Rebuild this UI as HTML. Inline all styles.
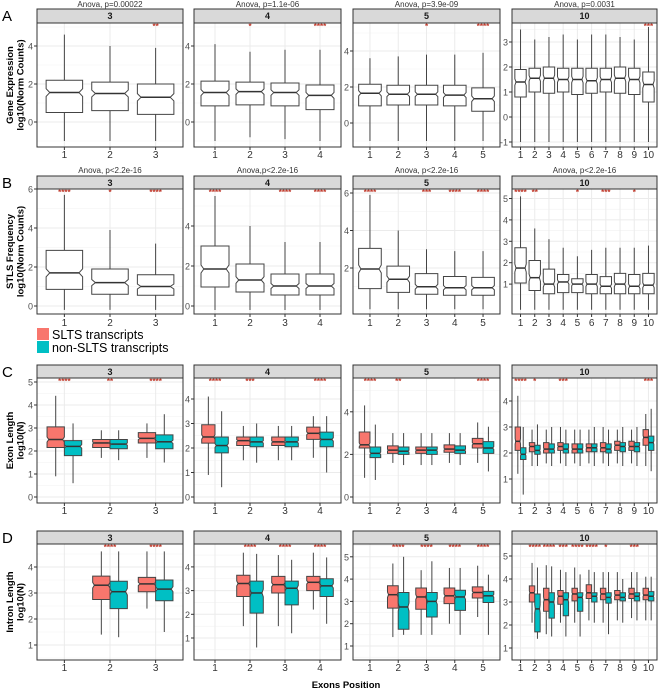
<!DOCTYPE html>
<html><head><meta charset="utf-8">
<style>
html,body{margin:0;padding:0;background:#fff;}
svg{display:block;font-family:"Liberation Sans",Arial,sans-serif;}
</style></head>
<body>
<svg id="fig" width="660" height="690" viewBox="0 0 660 690"></svg>
<script>
// ---------- data ----------
const rowNames = ["A","B","C","D"];
const facetLabels = ["3","4","5","10"];
const anovaA = ["Anova, p=0.00022","Anova, p=1.1e-06","Anova, p=3.9e-09","Anova, p=0.0031"];
const anovaB = ["Anova, p<2.2e-16","Anova,p<2.2e-16","Anova, p<2.2e-16","Anova, p<2.2e-16"];
const yTitles = [["Gene Expression","log10(Norm Counts)"],["STLS Frequency","log10(Norm Counts)"],["Exon Length","log10(N)"],["Intron Length","log10(N)"]];
// boxes: [lo, q1, median, q3, hi]
const boxA1 = [[-1.0,0.5,1.55,2.2,4.6],[-1.0,0.6,1.5,2.1,4.0],[-1.0,0.4,1.3,2.0,3.9]];
const boxA2 = [[-1.0,0.85,1.55,2.15,4.1],[-0.8,0.9,1.6,2.1,3.7],[-0.9,0.85,1.55,2.05,3.8],[-1.0,0.65,1.4,1.95,3.8]];
const boxA3 = [[-1.0,0.95,1.65,2.15,3.6],[-1.0,1.0,1.6,2.1,3.7],[-1.0,1.0,1.6,2.1,3.8],[-1.0,0.95,1.55,2.1,3.8],[-1.0,0.65,1.35,1.95,3.9]];
const boxA4 = [[-1,0.8,1.4,1.9,3.5],[-1,1.0,1.55,1.95,3.1],[-1,0.95,1.55,2.0,3.2],[-1,1.0,1.5,1.95,3.3],[-1,0.9,1.5,1.95,3.1],[-1,0.95,1.45,1.95,3.3],[-1,1.0,1.5,1.95,3.3],[-1,0.95,1.55,2.0,3.2],[-1,0.9,1.5,1.95,3.1],[-1,0.6,1.3,1.8,3.6]];
const boxB1 = [[-0.2,0.85,1.7,2.85,5.7],[-0.2,0.6,1.2,1.9,3.9],[-0.2,0.55,1.0,1.6,3.2]];
const boxB2 = [[-0.2,0.95,1.85,3.0,5.5],[-0.2,0.7,1.3,2.1,4.0],[-0.2,0.55,1.0,1.6,3.2],[-0.2,0.55,1.0,1.6,3.2]];
const boxB3 = [[-0.2,0.9,1.95,3.05,5.9],[-0.2,0.7,1.4,2.1,4.0],[-0.2,0.6,1.0,1.7,3.0],[-0.2,0.55,0.95,1.55,2.9],[-0.2,0.55,0.95,1.5,2.9]];
const boxB4 = [[-0.2,1.05,1.75,2.7,5.1],[-0.2,0.7,1.3,2.1,3.6],[-0.2,0.55,1.0,1.7,3.1],[-0.2,0.6,1.1,1.45,2.7],[-0.2,0.6,1.0,1.25,2.3],[-0.2,0.55,1.0,1.45,2.6],[-0.2,0.55,0.9,1.35,2.7],[-0.2,0.55,1.0,1.5,2.7],[-0.2,0.55,0.9,1.45,2.7],[-0.2,0.55,0.95,1.5,2.8]];
// paired: [SLTS, nonSLTS]
const boxC1 = [[[0.9,2.15,2.5,3.05,4.4],[0.6,1.8,2.2,2.45,3.2]],[[1.7,2.15,2.35,2.5,2.9],[1.6,2.1,2.3,2.5,2.9]],[[1.7,2.35,2.55,2.8,3.2],[1.5,2.1,2.4,2.7,3.6]]];
const boxC2 = [[[0.9,2.2,2.45,2.95,4.1],[0.4,1.8,2.1,2.45,3.5]],[[1.5,2.1,2.3,2.45,2.9],[1.4,2.05,2.25,2.45,3.0]],[[1.5,2.1,2.25,2.45,2.9],[1.5,2.05,2.25,2.45,2.9]],[[1.6,2.35,2.6,2.85,3.3],[1.0,2.05,2.35,2.65,3.3]]];
const boxC3 = [[[0.9,2.3,2.45,3.05,4.3],[0.8,1.85,2.05,2.35,3.4]],[[1.6,2.05,2.2,2.4,3.0],[1.5,2.0,2.15,2.35,3.0]],[[1.5,2.05,2.2,2.35,3.0],[1.5,2.0,2.2,2.35,3.0]],[[1.6,2.1,2.25,2.45,3.0],[1.5,2.05,2.2,2.4,3.0]],[[1.6,2.3,2.5,2.75,3.5],[1.2,2.05,2.3,2.6,3.3]]];
const boxC4 = [[[1.2,2.1,2.45,3.0,4.2],[0.4,1.75,1.95,2.2,3.0]],[[1.5,2.05,2.25,2.4,2.9],[1.5,1.95,2.1,2.3,3.1]],[[1.6,2.0,2.15,2.4,2.9],[1.5,2.0,2.15,2.35,3.0]],[[1.6,2.1,2.25,2.4,3.0],[1.5,2.0,2.15,2.35,2.9]],[[1.6,2.0,2.15,2.35,2.9],[1.5,2.0,2.15,2.35,2.9]],[[1.6,2.05,2.2,2.35,2.9],[1.5,2.05,2.2,2.35,3.0]],[[1.6,2.05,2.2,2.4,3.0],[1.5,2.0,2.15,2.35,2.9]],[[1.6,2.1,2.3,2.45,2.9],[1.5,2.05,2.25,2.4,3.0]],[[1.6,2.1,2.25,2.45,2.9],[1.5,2.05,2.25,2.4,3.0]],[[1.5,2.3,2.6,2.9,3.5],[1.3,2.1,2.4,2.65,3.7]]];
const boxD1 = [null,[[1.4,2.75,3.3,3.65,4.6],[1.3,2.4,3.05,3.45,4.6]],[[2.4,3.05,3.35,3.6,4.6],[1.5,2.7,3.15,3.5,4.6]]];
const boxD2 = [null,[[1.5,2.75,3.3,3.65,4.6],[0.6,2.05,2.9,3.4,4.55]],[[1.5,2.9,3.25,3.6,4.5],[1.2,2.4,3.1,3.4,4.3]],[[2.2,3.0,3.35,3.6,4.6],[1.6,2.75,3.2,3.5,4.4]]];
const boxD3 = [null,[[1.4,2.7,3.3,3.7,4.7],[1.5,1.75,2.75,3.4,5.0]],[[1.5,2.65,3.2,3.6,4.4],[1.5,2.3,3.0,3.4,4.8]],[[2.0,2.9,3.25,3.6,4.5],[1.5,2.6,3.2,3.5,4.5]],[[2.3,3.15,3.4,3.65,4.6],[1.5,2.95,3.25,3.45,4.2]]];
const boxD4 = [null,[[2.1,3.0,3.4,3.7,4.7],[1.4,1.7,2.7,3.35,4.5]],[[1.6,2.6,3.1,3.6,4.6],[1.5,2.3,3.0,3.4,4.55]],[[2.1,2.9,3.25,3.5,4.4],[1.5,2.4,3.1,3.4,4.3]],[[2.1,3.05,3.35,3.6,4.5],[1.5,2.6,3.2,3.4,4.2]],[[2.2,3.15,3.4,3.75,4.4],[2.1,3.0,3.25,3.4,4.3]],[[2.1,3.1,3.35,3.6,4.3],[1.6,2.95,3.2,3.4,4.3]],[[2.2,3.1,3.3,3.5,4.3],[2.1,3.05,3.2,3.4,4.0]],[[2.3,3.15,3.35,3.6,4.3],[2.2,3.05,3.25,3.4,4.3]],[[2.2,3.1,3.3,3.6,4.1],[2.2,3.05,3.25,3.45,4.1]]];
// significance labels
const sigA = [["","","**"],["","*","","****"],["","","*","","****"],["","","","","","","","","","***"]];
const sigB = [["****","*","****"],["****","","****","****"],["****","","***","****","****"],["****","**","","","*","","***","","*",""]];
const sigC = [["****","**","****"],["****","***","","****"],["****","**","","","****"],["****","*","","***","","","","","","***"]];
const sigD = [["","****","****"],["","****","****","****"],["","****","****","****","****"],["","****","****","***","****","****","*","","***",""]];
// y ticks
const ticksA = [[0,2,4],[0,2,4],[0,2,4],[-1,0,1,2,3]];
const ticksB = [[0,2,4,6],[0,2,4],[2,4,6],[1,2,3,4,5]];
const ticksC = [[0,1,2,3,4,5],[0,1,2,3,4],[0,2,4],[1,2,3,4]];
const ticksD = [[1,2,3,4],[1,2,3,4],[1,2,3,4,5],[1,2,3,4,5]];

// ---------- layout (pixels) ----------
const cols = [[37,183],[194,341],[353,500],[512,657]];
const rows = [
 {title:4, st:9, top:23, bot:147, lab:155},
 {title:170, st:176, top:189, bot:314, lab:323},
 {title:null, st:365, top:378, bot:503, lab:511},
 {title:null, st:531, top:544, bot:660, lab:668}];
const scales = [
 [[0,122,19],[0,122,19],[0,123,18],[0,117,25]],
 [[0,306,19.5],[0,306,20],[0,305.5,18.75],[0,305.5,21.4]],
 [[0,497,23],[0,497,24.5],[0,497,21.3],[0,505,26]],
 [[0,671,26],[0,661.7,23.7],[0,668.3,22.3],[0,671,23]]];

const boxes = [[boxA1,boxA2,boxA3,boxA4],[boxB1,boxB2,boxB3,boxB4],[boxC1,boxC2,boxC3,boxC4],[boxD1,boxD2,boxD3,boxD4]];
const sigs = [sigA,sigB,sigC,sigD];
const ticks = [ticksA,ticksB,ticksC,ticksD];

const NS="http://www.w3.org/2000/svg";
const svg=document.getElementById('fig');
function el(tag,attrs,parent){const e=document.createElementNS(NS,tag);for(const k in attrs)e.setAttribute(k,attrs[k]);(parent||svg).appendChild(e);return e;}
function txt(s,attrs,parent){const t=el('text',attrs,parent);t.textContent=s;return t;}

function notchDims(hw,Y1,Y3){const n=Math.min(4,(Y1-Y3)*0.12);return [n,hw*0.8];}
function boxPath(xc,hw,b,y){
  const [lo,q1,md,q3,hi]=b;const Y1=y(q1),Y3=y(q3),M=y(md);
  const [n,iw]=notchDims(hw,Y1,Y3);
  return `M${xc-hw},${Y3}H${xc+hw}V${M-n}L${xc+iw},${M}L${xc+hw},${M+n}V${Y1}H${xc-hw}V${M+n}L${xc-iw},${M}L${xc-hw},${M-n}Z`;
}
function drawBox(g,xc,hw,b,y,fill){
  const [lo,q1,md,q3,hi]=b;
  const w1=el('line',{x1:xc,x2:xc,y1:y(hi),y2:y(q3),stroke:'#444','stroke-width':1},g);
  
  
  const w2=el('line',{x1:xc,x2:xc,y1:y(q1),y2:y(lo),stroke:'#444','stroke-width':1},g);
  
  
  const p=el('path',{d:boxPath(xc,hw,b,y),fill:fill,stroke:'#444','stroke-width':1},g);
  
  
  const [n,iw]=notchDims(hw,y(q1),y(q3));
  const m=el('line',{x1:xc-iw,x2:xc+iw,y1:y(md),y2:y(md),stroke:'#333','stroke-width':1.5},g);
  
  
}

for(let r=0;r<4;r++){
  const R=rows[r];
  const lt=txt(rowNames[r],{x:2,y:R.st+12,'font-size':15,fill:'#000'});
  
  
  const ym=(R.top+R.bot)/2;
  const yt=txt('',{transform:`translate(13,${ym}) rotate(-90)`,'font-size':9.5,'font-weight':'bold','text-anchor':'middle',fill:'#000'});
  
  
  yTitles[r].forEach((s,i)=>{const ts=el('tspan',{x:0,dy:i?10.5:0},yt);ts.textContent=s;});
  for(let c=0;c<4;c++){
    const [L,Rr]=cols[c];const W=Rr-L;
    const g=el('g',{});
    
    
    const [v0,p0,ppu]=scales[r][c];
    const y=v=>p0-(v-v0)*ppu;
    const data=boxes[r][c];const n=data.length;
    const x=i=>L+(i+1-0.4)/(n+0.2)*W;
    const unit=W/(n+0.2);
    el('rect',{x:L,y:R.top,width:W,height:R.bot-R.top,fill:'#fff'},g);
    const tk=ticks[r][c];
    const step=tk.length>1?tk[1]-tk[0]:1;
    for(let k=-1;k<tk.length;k++){
      const v=(k<0?tk[0]:tk[k])+(k<0?-step/2:step/2);
      const yy=y(v);if(yy>R.top&&yy<R.bot)el('line',{x1:L,x2:Rr,y1:yy,y2:yy,stroke:'#f2f2f2','stroke-width':0.6},g);
    }
    tk.forEach(v=>{const yy=y(v);if(yy>=R.top-1&&yy<=R.bot+1){
      el('line',{x1:L,x2:Rr,y1:yy,y2:yy,stroke:'#ebebeb','stroke-width':1},g);
      el('line',{x1:L-3,x2:L,y1:yy,y2:yy,stroke:'#333','stroke-width':1},g);
      const t=txt(String(v),{x:L-4,y:yy+3.5,'font-size':9,'text-anchor':'end',fill:'#4d4d4d'},g);
      
      
    }});
    for(let i=0;i<n;i++)el('line',{x1:x(i),x2:x(i),y1:R.top,y2:R.bot,stroke:'#ebebeb','stroke-width':1},g);
    for(let i=0;i<n;i++){
      const d=data[i];if(!d)continue;
      if(r<2){drawBox(g,x(i),unit*0.4,d,y,'#fff');}
      else{
        const hw=unit*0.19;
        drawBox(g,x(i)-unit*0.19,hw,d[0],y,'#F8766D');
        drawBox(g,x(i)+unit*0.19,hw,d[1],y,'#00BFC4');
      }
      const s=sigs[r][c][i];
      if(s){const st=txt(s,{x:x(i),y:R.top+6,'font-size':8,'text-anchor':'middle',fill:'#c0392b','font-weight':'bold'},g);
        
        }
    }
    for(let i=0;i<n;i++){
      el('line',{x1:x(i),x2:x(i),y1:R.bot,y2:R.bot+3,stroke:'#333'},g);
      const t=txt(String(i+1),{x:x(i),y:R.lab+3,'font-size':10,'text-anchor':'middle',fill:'#333'},g);
      
      
    }
    el('rect',{x:L,y:R.top,width:W,height:R.bot-R.top,fill:'none',stroke:'#333','stroke-width':1},g);
    const sr=el('rect',{x:L,y:R.st,width:W,height:R.top-R.st,fill:'#d9d9d9',stroke:'#333','stroke-width':1},g);
    
    
    const sl=txt(facetLabels[c],{x:L+W/2,y:R.st+10,'font-size':9,'font-weight':'bold','text-anchor':'middle',fill:'#1a1a1a'},g);
    
    
    if(R.title!==null){
      const s=(r===0?anovaA:anovaB)[c];
      const at=txt(s,{x:L+W/2,y:R.title+3,'font-size':8,'text-anchor':'middle',fill:'#333'},g);
      
      
    }
  }
}
const lg=el('g',{});


el('rect',{x:37,y:328,width:12,height:12,fill:'#F8766D'},lg);
el('rect',{x:37,y:341,width:12,height:12,fill:'#00BFC4'},lg);
const l1=txt('SLTS transcripts',{x:52,y:339,'font-size':12.5,fill:'#000'},lg);


const l2=txt('non-SLTS transcripts',{x:52,y:352,'font-size':12.5,fill:'#000'},lg);


const xt=txt('Exons Position',{x:346,y:688,'font-size':9.5,'font-weight':'bold','text-anchor':'middle',fill:'#000'});


</script>
</body></html>
